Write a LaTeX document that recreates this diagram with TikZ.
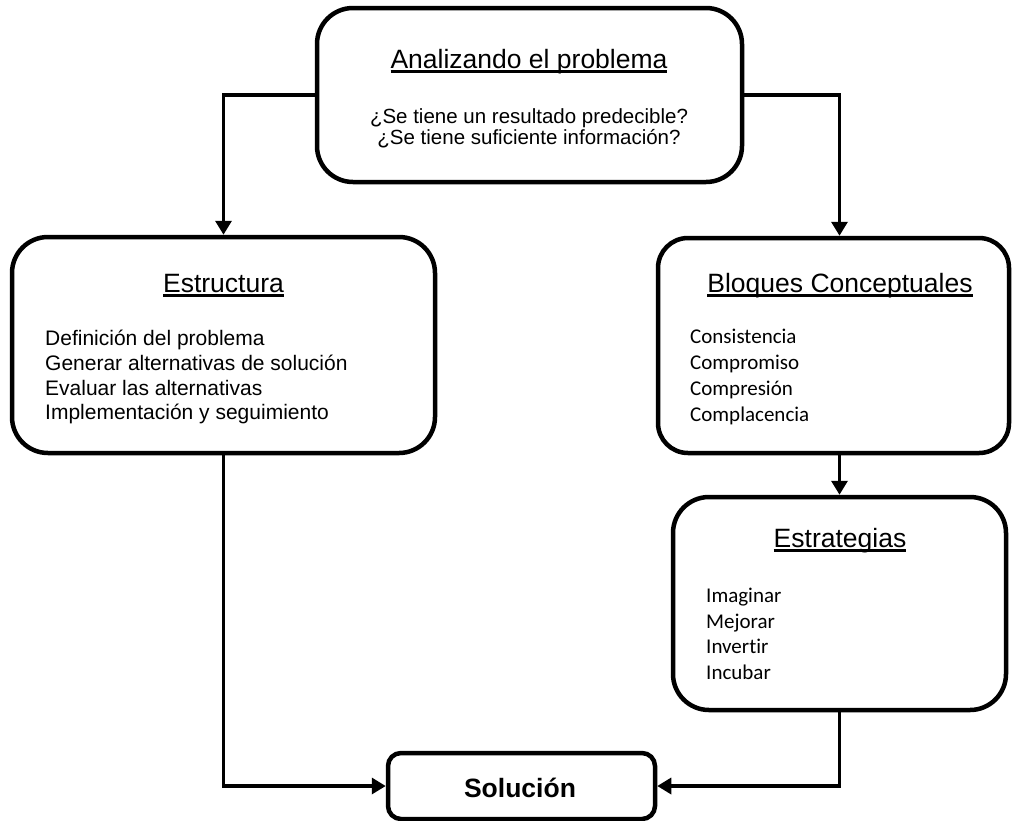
\documentclass[tikz,border=0pt]{standalone}
\usepackage{fontspec}
\setmainfont{Liberation Sans}
\newfontfamily\bodyfont[Ligatures=CommonOff]{Carlito}
\usetikzlibrary{arrows.meta}

% underline set close to the baseline, crossing descenders
\newcommand{\ulin}[1]{\setbox0\hbox{#1}\rlap{\rule[-0.17em]{\wd0}{0.08em}}\box0}

\begin{document}
\begin{tikzpicture}[x=1pt,y=-1pt,
  box/.style={draw, line width=4.5pt, rounded corners=36pt, inner sep=0pt},
  conn/.style={line width=3.3pt, -{Triangle[width=16pt,length=14pt]}},
  title/.style={anchor=base, inner sep=0pt, font=\fontsize{26.5}{30}\selectfont},
  item/.style={anchor=base west, inner sep=0pt, font=\fontsize{21}{25}\selectfont},
  citem/.style={anchor=base west, inner sep=0pt, font=\bodyfont\fontsize{21}{25}\selectfont},
  qline/.style={anchor=base, inner sep=0pt, font=\fontsize{20.5}{22}\selectfont}]
\useasboundingbox (0,0) rectangle (1012,820);

% boxes
\node[box, minimum width=425pt, minimum height=174pt] (ana) at (529.5,95) {};
\node[box, minimum width=423pt, minimum height=216pt] (est) at (223.5,345) {};
\node[box, rounded corners=30pt, minimum width=351pt, minimum height=215pt] (blo) at (833.5,345.5) {};
\node[box, minimum width=333pt, minimum height=213pt] (stg) at (839.5,603.5) {};
\node[box, rounded corners=13pt, minimum width=267pt, minimum height=66pt] (sol) at (521.5,786) {};

% top box
\node[title] (anat) at (529,68) {\ulin{Analizando el problema}};
\node[qline] (q1) at (529,123) {¿Se tiene un resultado predecible?};
\node[qline] (q2) at (529,144) {¿Se tiene suficiente información?};

% Estructura
\node[title] (estt) at (223.5,292) {\ulin{Estructura}};
\node[item] (e1) at (45,345) {Definición del problema};
\node[item] (e2) at (45,370) {Generar alternativas de solución};
\node[item] (e3) at (45,395) {Evaluar las alternativas};
\node[item] (e4) at (45,419) {Implementación y seguimiento};

% Bloques Conceptuales
\node[title] (blot) at (840,292) {\ulin{Bloques Conceptuales}};
\node[citem] (b1) at (690,343) {Consistencia};
\node[citem] (b2) at (690,369) {Compromiso};
\node[citem] (b3) at (690,395) {Compresión};
\node[citem] (b4) at (690,421) {Complacencia};

% Estrategias
\node[title] (stgt) at (840,547) {\ulin{Estrategias}};
\node[citem] (s1) at (706,602) {Imaginar};
\node[citem] (s2) at (706,628) {Mejorar};
\node[citem] (s3) at (706,653) {Invertir};
\node[citem] (s4) at (706,679) {Incubar};

% Solución
\node[anchor=base, inner sep=0pt, font=\bfseries\fontsize{26.5}{30}\selectfont] (solt) at (520,797) {Solución};

% connectors
\draw[conn] (ana.west) -| (est.north);
\draw[conn] (ana.east) -| (stg.north |- blo.north);
\draw[conn] (stg.north |- blo.south) -- (stg.north);
\draw[conn] (est.south) |- (sol.west);
\draw[conn] (stg.south) |- (sol.east);
\end{tikzpicture}
\end{document}
